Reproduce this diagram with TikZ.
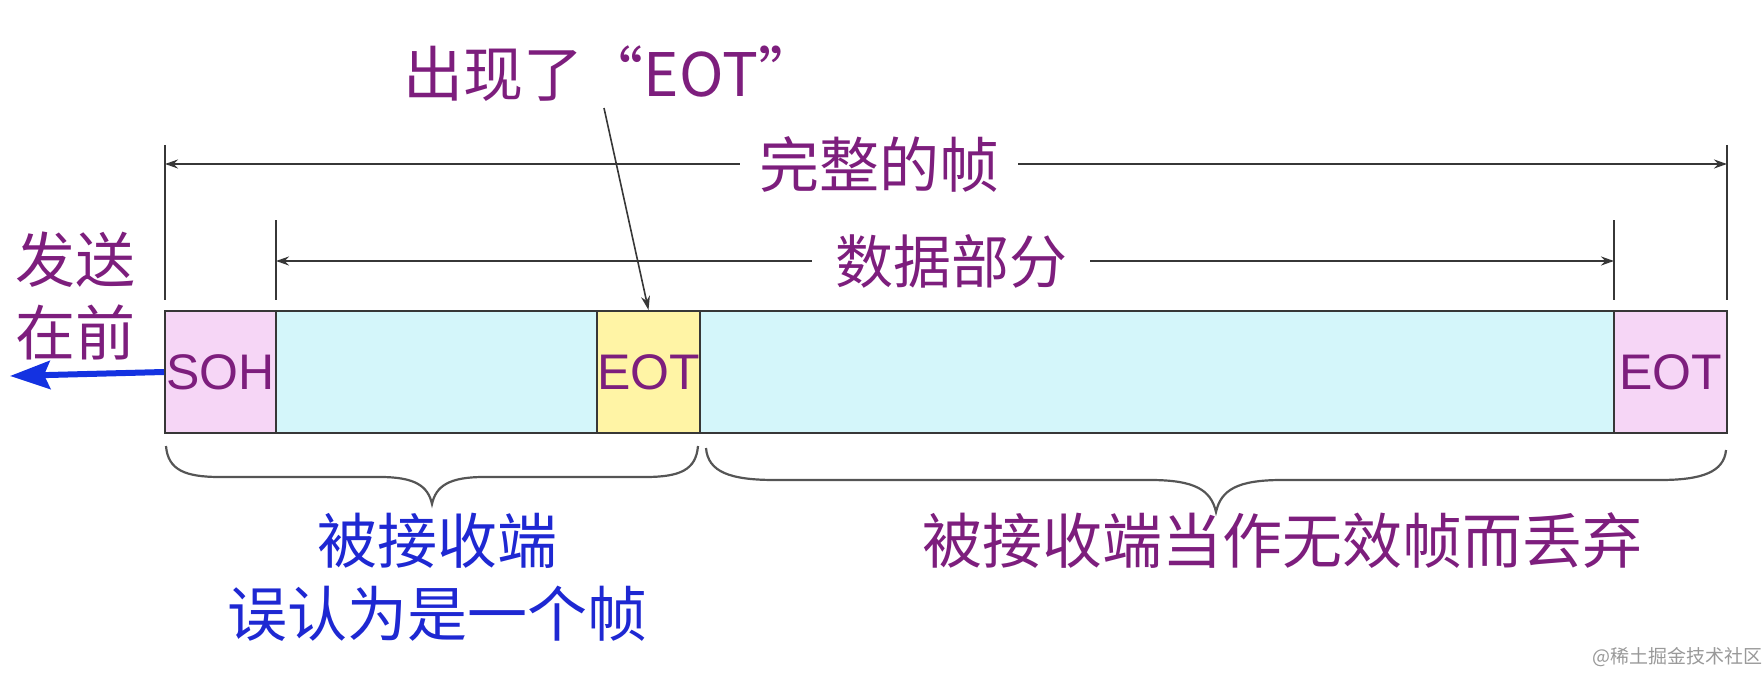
\documentclass[tikz,border=0pt]{standalone}
\usepackage{fontspec}
\setmainfont{Liberation Sans}
\newfontfamily\cjk{Noto Sans CJK SC}
\usetikzlibrary{arrows.meta}
\definecolor{txtpurple}{RGB}{125,30,125}
\definecolor{txtblue}{RGB}{30,40,210}
\definecolor{cellpink}{RGB}{246,214,246}
\definecolor{cellcyan}{RGB}{212,246,250}
\definecolor{cellyellow}{RGB}{255,244,165}
\definecolor{linegray}{RGB}{55,55,55}
\definecolor{bracegray}{RGB}{85,85,85}
\definecolor{arrowblue}{RGB}{20,50,225}
\begin{document}
\begin{tikzpicture}[x=1pt,y=-1pt,
  cjkbig/.style={font=\cjk\fontsize{60}{73}\selectfont, inner sep=0pt, align=center},
  purpletext/.style={cjkbig, text=txtpurple},
  bluetext/.style={cjkbig, text=txtblue},
  dimlabel/.style={purpletext, fill=white, inner xsep=19pt, inner ysep=2pt},
  dimline/.style={draw=linegray, line width=2pt, -{Stealth[length=13pt,width=9pt]}},
  tickline/.style={draw=linegray, line width=1.6pt},
  cell/.style={draw=linegray, line width=2pt, minimum height=122pt, inner sep=0pt,
    font=\fontsize{50}{54}\selectfont, text=txtpurple},
  bracepath/.style={draw=bracegray, line width=2.2pt},
  pointer/.style={draw=linegray, line width=1.6pt, -{Stealth[length=14pt,width=9pt]}},
  sendarrow/.style={draw=arrowblue, line width=6pt, -{Stealth[length=40pt,width=28pt,inset=6pt]}}
]
\useasboundingbox (0,0) rectangle (1764,674);

% frame cells
\node[cell, fill=cellpink,   minimum width=111pt] (soh)  at (220.5,372) {SOH};
\node[cell, fill=cellcyan,   minimum width=321pt] (d1)   at (436.5,372) {};
\node[cell, fill=cellyellow, minimum width=103pt] (eot1) at (648.5,372) {EOT};
\node[cell, fill=cellcyan,   minimum width=914pt] (d2)   at (1157,372) {};
\node[cell, fill=cellpink,   minimum width=113pt] (eot2) at (1670.5,372) {EOT};

% dimension ticks
\coordinate (ftl) at (165,145);  \coordinate (fbl) at (165,300);
\coordinate (ftr) at (1727,145); \coordinate (fbr) at (1727,300);
\coordinate (dtl) at (276,220);  \coordinate (dbl) at (276,300);
\coordinate (dtr) at (1614,220); \coordinate (dbr) at (1614,300);
\draw[tickline] (ftl) -- (fbl);
\draw[tickline] (ftr) -- (fbr);
\draw[tickline] (dtl) -- (dbl);
\draw[tickline] (dtr) -- (dbr);
\coordinate (fl) at (165,164); \coordinate (fr) at (1727,164);
\coordinate (dl) at (276,261); \coordinate (dr) at (1614,261);

% complete frame
\node[dimlabel] (full) at (879,164) {完整的帧};
\draw[dimline] (full.west) -- (fl);
\draw[dimline] (full.east) -- (fr);

% data part
\node[dimlabel, font=\cjk\fontsize{58}{70}\selectfont, inner xsep=23pt] (data) at (951,261) {数据部分};
\draw[dimline] (data.west) -- (dl);
\draw[dimline] (data.east) -- (dr);

% EOT appears
\node[purpletext] (occ) at (611,74) {出现了“EOT”};
\coordinate (occp) at (604,108);
\draw[pointer] (occp) -- (eot1.north);

% send first
\node[purpletext] (send) at (76,296) {发送\\在前};
\coordinate (sendtip) at (10,376);
\draw[sendarrow] (soh.west) -- (sendtip);

% braces
\draw[bracepath] (166,446) .. controls (168,470) and (185,477) .. (220,477)
  -- (380,477) .. controls (415,477) and (428,486) .. (432,504)
  .. controls (436,486) and (449,477) .. (484,477)
  -- (645,477) .. controls (680,477) and (696,470) .. (698,446);
\draw[bracepath] (706,448) .. controls (708,472) and (730,480) .. (775,480)
  -- (1150,480) .. controls (1195,480) and (1211,490) .. (1216,512)
  .. controls (1221,490) and (1237,480) .. (1282,480)
  -- (1660,480) .. controls (1702,480) and (1724,472) .. (1726,450);

% brace labels
\node[bluetext] (wrong) at (437,577) {被接收端\\误认为是一个帧};
\node[purpletext] (discard) at (1282,541) {被接收端当作无效帧而丢弃};

% watermark
\node[font=\cjk\fontsize{19}{22}\selectfont, text=black!40, inner sep=0pt] (wm) at (1677,657) {@稀土掘金技术社区};
\end{tikzpicture}
\end{document}
